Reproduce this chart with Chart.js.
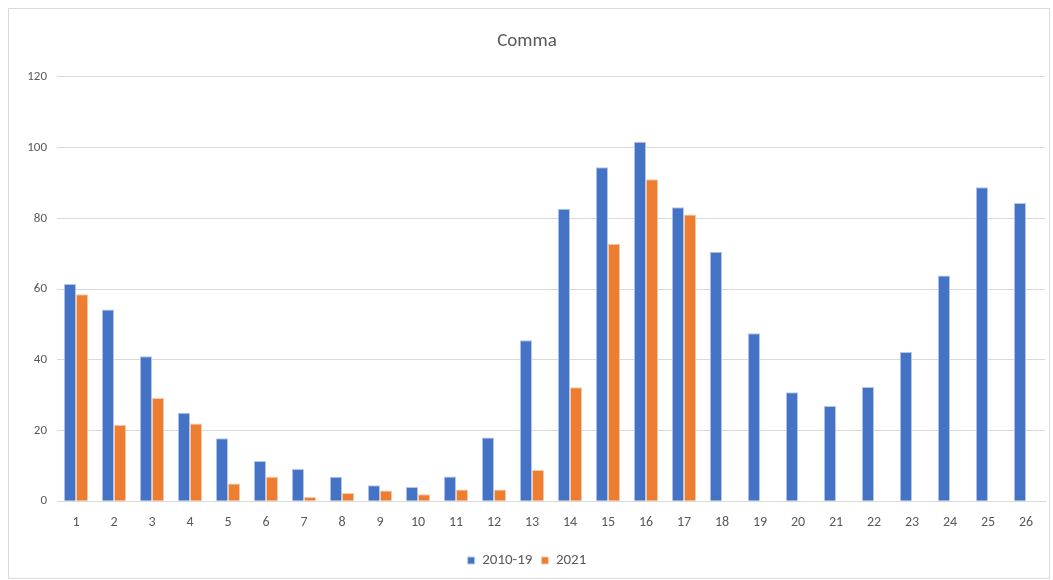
<!DOCTYPE html>
<html>
<head>
<meta charset="utf-8">
<script src="https://cdn.jsdelivr.net/npm/chart.js@4/dist/chart.umd.min.js"></script>
<style>
  html, body { margin: 0; padding: 0; background: #fff; }
  #wrap { width: 1053px; height: 580px; position: relative; }
</style>
</head>
<body>
<div id="wrap"><canvas id="commaChart"></canvas></div>
<script>
const categories = ['1','2','3','4','5','6','7','8','9','10','11','12','13','14','15','16','17','18','19','20','21','22','23','24','25','26'];
const avg2010_19 = [61.4, 54.2, 41.0, 25.0, 17.8, 11.4, 9.1, 6.9, 4.5, 4.0, 7.0, 18.0, 45.5, 82.7, 94.4, 101.6, 83.1, 70.5, 47.5, 30.8, 26.9, 32.3, 42.2, 63.8, 88.8, 84.3];
const values2021 = [58.5, 21.6, 29.2, 22.0, 5.0, 6.9, 1.2, 2.3, 3.0, 2.0, 3.3, 3.3, 8.8, 32.2, 72.8, 91.0, 81.1];
const yTicks = [0, 20, 40, 60, 80, 100, 120];

const fontFamily = 'Carlito, Calibri, "Liberation Sans Narrow", "Open Sans", sans-serif';
const textColor = '#595959';

// outer frame like the spreadsheet chart box
const framePlugin = {
    id: 'frame',
    beforeDraw(chart) {
        const ctx = chart.ctx;
        ctx.save();
        ctx.fillStyle = '#ffffff';
        ctx.fillRect(0, 0, chart.width, chart.height);
        ctx.strokeStyle = '#d9d9d9';
        ctx.lineWidth = 1;
        ctx.strokeRect(8.5, 8.5, chart.width - 12, chart.height - 10);
        ctx.restore();
    }
};

const ctx = document.getElementById('commaChart').getContext('2d');
new Chart(ctx, {
    type: 'bar',
    data: {
        labels: categories,
        datasets: [{
            label: '2010-19',
            data: avg2010_19,
            backgroundColor: '#4472c4',
            borderColor: '#b4c7e7',
            borderWidth: 1
        }, {
            label: '2021',
            data: values2021,
            backgroundColor: '#ed7d31',
            borderColor: '#f8cbad',
            borderWidth: 1
        }]
    },
    options: {
        responsive: true,
        maintainAspectRatio: false,
        animation: false,
        categoryPercentage: 0.64,
        barPercentage: 1.0,
        layout: { padding: { top: 10, left: 9, right: 8, bottom: 2 } },
        scales: {
            x: {
                grid: { display: false, drawTicks: false },
                border: { display: true, color: '#d9d9d9' },
                ticks: { color: textColor, font: { family: fontFamily, size: 14 }, padding: 13, maxRotation: 0 }
            },
            y: {
                min: 0,
                max: 120,
                afterBuildTicks: (scale) => { scale.ticks = yTicks.map(v => ({ value: v })); },
                afterFit: (scale) => { scale.width = 48; },
                grid: { color: '#d9d9d9', drawTicks: false },
                border: { display: false },
                ticks: { color: textColor, font: { family: fontFamily, size: 13 }, padding: 10 }
            }
        },
        plugins: {
            title: {
                display: true,
                text: 'Comma',
                color: textColor,
                font: { family: fontFamily, size: 19, weight: 'normal' },
                padding: { top: 20, bottom: 24 }
            },
            legend: {
                position: 'bottom',
                labels: {
                    color: textColor,
                    font: { family: fontFamily, size: 15 },
                    boxWidth: 7,
                    boxHeight: 7,
                    padding: 9
                }
            },
            tooltip: { enabled: false }
        }
    },
    plugins: [framePlugin]
});
</script>
</body>
</html>
